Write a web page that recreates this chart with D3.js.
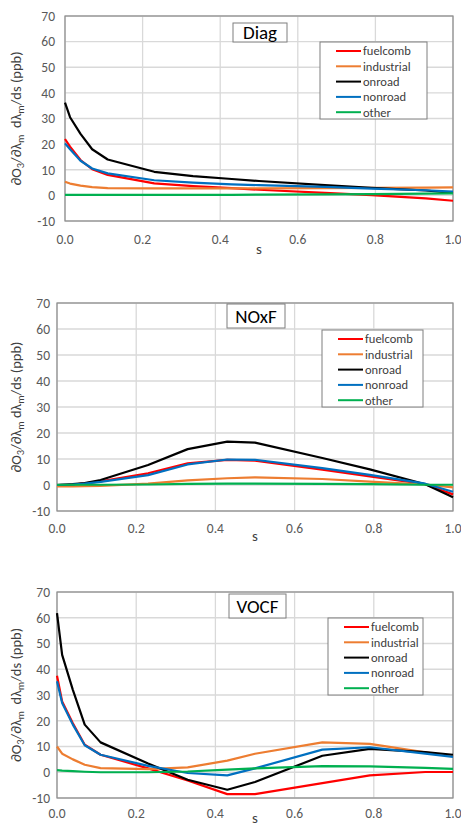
<!DOCTYPE html>
<html>
<head>
<meta charset="utf-8">
<script src="https://cdn.jsdelivr.net/npm/d3@7"></script>
<style>
  html, body { margin: 0; padding: 0; background: #fff; }
  svg { display: block; font-family: Carlito, Lato, "Liberation Sans", sans-serif; }
</style>
</head>
<body>
<div id="chart"></div>
<script>
// ─── Data ───
const S = [0, 0.013, 0.04, 0.07, 0.11, 0.23, 0.33, 0.43, 0.5, 0.67, 0.79, 0.93, 1.0];
const SERIES = ["fuelcomb", "industrial", "onroad", "nonroad", "other"];
const COLORS = ["#ff0000", "#ed7d31", "#000000", "#0070c0", "#00b050"];
const PANEL_TITLES = ["Diag", "NOxF", "VOCF"];
const X_TICKS = [0, 0.2, 0.4, 0.6, 0.8, 1.0];
const Y_TICKS = [-10, 0, 10, 20, 30, 40, 50, 60, 70];

const diag = [
  [22, 19, 13.8, 10.2, 8, 4.7, 3.6, 2.8, 2.2, 1.0, 0.1, -1.2, -2.1],
  [5.3, 4.6, 3.8, 3.2, 2.8, 2.7, 2.7, 2.7, 2.7, 2.8, 2.9, 3.0, 3.1],
  [36.2, 30.5, 24, 18, 14, 9.2, 7.5, 6.4, 5.6, 4.0, 2.9, 1.9, 1.0],
  [20.3, 18, 13.5, 10.5, 8.6, 5.9, 5.0, 4.3, 4.0, 3.3, 2.6, 2.0, 1.5],
  [0.2, 0.2, 0.2, 0.2, 0.2, 0.2, 0.2, 0.2, 0.3, 0.4, 0.5, 0.7, 0.8],
];
const noxf = [
  [0, 0.1, 0.2, 0.6, 1.4, 4.5, 8.3, 9.7, 9.4, 5.9, 3.3, 0.3, -3.6],
  [-0.5, -0.5, -0.5, -0.4, -0.3, 0.5, 1.8, 2.6, 2.9, 2.3, 1.3, 0.2, -0.9],
  [0, 0.1, 0.3, 0.7, 1.9, 7.7, 13.8, 16.7, 16.3, 10.4, 6.0, 0.3, -4.7],
  [0, 0.1, 0.2, 0.5, 1.2, 3.8, 7.9, 9.8, 9.7, 6.5, 3.9, 0.5, -2.6],
  [0.1, 0.1, 0.1, 0.1, 0.1, 0.2, 0.4, 0.5, 0.5, 0.4, 0.3, 0.1, 0.1],
];
const vocf = [
  [37.5, 27.5, 19, 10.7, 6.8, 1.5, -3.2, -8.5, -8.5, -4.2, -1.2, 0.1, 0.1],
  [10, 7.2, 5, 2.9, 1.6, 1.2, 1.9, 4.5, 7.2, 11.6, 11.0, 7.7, 6.2],
  [61.8, 45.6, 32, 18.5, 11.6, 3.4, -2.9, -6.8, -3.8, 6.4, 9.1, 7.8, 6.8],
  [35.3, 26.9, 18.5, 10.5, 6.8, 2.5, -0.3, -1.2, 1.5, 8.8, 9.7, 7.2, 6.0],
  [0.8, 0.6, 0.4, 0.2, 0, 0, 0.3, 1.0, 1.5, 2.4, 2.3, 1.7, 1.3],
];
const PANEL_DATA = [diag, noxf, vocf];

// ─── Layout per panel (pixels) ───
const LAYOUT = [
  { x0: 65, x1: 453, top: 16, bot: 221, tickY: 244, sY: 254, ylabX: 21, tickX: 55,
    title: [233, 23, 54, 19], legend: [320, 42, 107, 77] },
  { x0: 57, x1: 453, top: 303, bot: 511, tickY: 533, sY: 541, ylabX: 21, tickX: 50,
    title: [227, 304, 58, 24], legend: [322, 330, 101, 77] },
  { x0: 57, x1: 453, top: 592, bot: 798, tickY: 818, sY: 823, ylabX: 21, tickX: 50,
    title: [229, 594, 57, 24], legend: [328, 618, 95, 77] },
];

const W = 461, H = 826;
const svg = d3.select("#chart").append("svg").attr("width", W).attr("height", H);

PANEL_DATA.forEach((data, p) => {
  const L = LAYOUT[p];
  const g = svg.append("g");
  const x = d3.scaleLinear().domain([0, 1]).range([L.x0, L.x1]);
  const y = d3.scaleLinear().domain([-10, 70]).range([L.bot, L.top]);

  // gridlines
  g.selectAll("line.hg").data(Y_TICKS).join("line")
    .attr("x1", L.x0).attr("x2", L.x1)
    .attr("y1", (d) => y(d)).attr("y2", (d) => y(d))
    .attr("stroke", "#d9d9d9").attr("stroke-width", 1.3);
  g.selectAll("line.vg").data(X_TICKS).join("line")
    .attr("x1", (d) => x(d)).attr("x2", (d) => x(d))
    .attr("y1", L.top).attr("y2", L.bot)
    .attr("stroke", "#d9d9d9").attr("stroke-width", 1.3);

  // plot border
  g.append("rect")
    .attr("x", L.x0).attr("y", L.top)
    .attr("width", L.x1 - L.x0).attr("height", L.bot - L.top)
    .attr("fill", "none").attr("stroke", "#8c8c8c").attr("stroke-width", 1.2);

  // tick labels
  g.selectAll("text.xt").data(X_TICKS).join("text")
    .attr("x", (d) => x(d)).attr("y", L.tickY)
    .attr("text-anchor", "middle").attr("font-size", 13.5).attr("fill", "#595959")
    .text(d3.format(".1f"));
  g.selectAll("text.yt").data(Y_TICKS).join("text")
    .attr("x", L.tickX).attr("y", (d) => y(d) + 4.8)
    .attr("text-anchor", "end").attr("font-size", 13.5).attr("fill", "#595959")
    .text((d) => d);

  // axis titles
  g.append("text").attr("x", (L.x0 + L.x1) / 2).attr("y", L.sY)
    .attr("text-anchor", "middle").attr("font-size", 15).attr("fill", "#404040")
    .text("s");

  const yl = g.append("text")
    .attr("transform", `translate(${L.ylabX},${(L.top + L.bot) / 2}) rotate(-90)`)
    .attr("text-anchor", "middle").attr("font-size", 14.5).attr("fill", "#404040");
  const parts = [["∂O", 0], ["3", 1], ["/∂λ", 0], ["m", 1], [p === 1 ? " dλ" : "  dλ", 0], ["m", 1], ["/ds (ppb)", 0]];
  parts.forEach(([t, sub]) => {
    const ts = yl.append("tspan").text(t).attr("xml:space", "preserve");
    if (sub) ts.attr("baseline-shift", "-25%").attr("font-size", 10.5);
  });

  // series lines
  const line = d3.line().x((d, i) => x(S[i])).y((d) => y(d));
  g.selectAll("path.series").data(data).join("path")
    .attr("fill", "none")
    .attr("stroke", (d, i) => COLORS[i])
    .attr("stroke-width", 2.2)
    .attr("stroke-linejoin", "round")
    .attr("d", line);

  // title box
  const [tx, ty, tw, th] = L.title;
  g.append("rect").attr("x", tx).attr("y", ty).attr("width", tw).attr("height", th)
    .attr("fill", "#fff").attr("stroke", "#7f7f7f").attr("stroke-width", 1);
  g.append("text").attr("x", tx + tw / 2).attr("y", ty + th / 2 + 6.5)
    .attr("text-anchor", "middle").attr("font-size", 19).attr("fill", "#000")
    .text(PANEL_TITLES[p]);

  // legend
  const [lx, ly, lw, lh] = L.legend;
  g.append("rect").attr("x", lx).attr("y", ly).attr("width", lw).attr("height", lh)
    .attr("fill", "#fff").attr("stroke", "#7f7f7f").attr("stroke-width", 1);
  const rows = g.selectAll("g.leg").data(SERIES).join("g")
    .attr("transform", (d, i) => `translate(${lx},${ly + 9 + i * 15.3})`);
  rows.append("line").attr("x1", 16).attr("x2", 41).attr("y1", 0).attr("y2", 0)
    .attr("stroke", (d, i) => COLORS[i]).attr("stroke-width", 2);
  rows.append("text").attr("x", 43).attr("y", 4.3)
    .attr("font-size", 12.5).attr("fill", "#404040").text((d) => d);
});
</script>
</body>
</html>
